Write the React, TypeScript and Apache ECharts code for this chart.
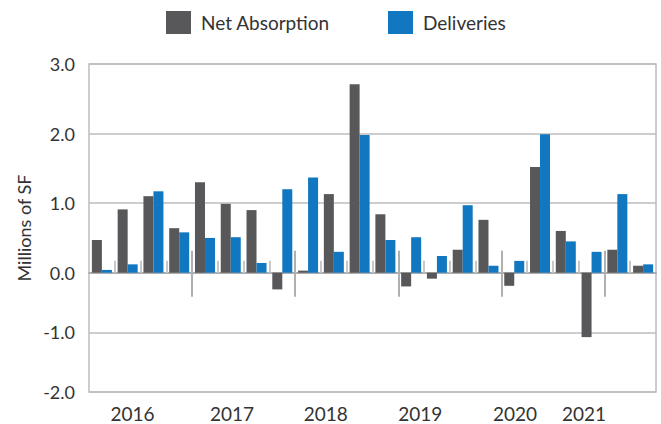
import React, { useEffect, useRef } from "react";
import * as echarts from "echarts";

// ---- data ----
const quarters = [
  "2016 Q1", "2016 Q2", "2016 Q3", "2016 Q4",
  "2017 Q1", "2017 Q2", "2017 Q3", "2017 Q4",
  "2018 Q1", "2018 Q2", "2018 Q3", "2018 Q4",
  "2019 Q1", "2019 Q2", "2019 Q3", "2019 Q4",
  "2020 Q1", "2020 Q2", "2020 Q3", "2020 Q4",
  "2021 Q1", "2021 Q2",
];
const netAbsorption = [
  0.47, 0.91, 1.1, 0.64,
  1.3, 0.99, 0.9, -0.28,
  0.03, 1.13, 2.71, 0.84,
  -0.23, -0.1, 0.33, 0.76,
  -0.22, 1.52, 0.6, -1.08,
  0.33, 0.1,
];
const deliveries = [
  0.04, 0.12, 1.17, 0.58,
  0.5, 0.51, 0.14, 1.2,
  1.37, 0.3, 1.98, 0.47,
  0.51, 0.24, 0.97, 0.1,
  0.17, 1.99, 0.45, 0.3,
  1.13, 0.12,
];
const yearLabels = ["2016", "2017", "2018", "2019", "2020", "2021"];
// where each year label sits, in quarter units along the axis (layout)
const yearLabelAt = [1.69, 5.55, 9.19, 12.85, 16.53, 19.21];
const yUpperMax = 3;
const yLowerMin = -2;

// ---- style ----
const FONT = "Lato";
const DARK = "#58585a";
const BLUE = "#1177c0";
const GRID_C = "#bdbdbd";
const TEXT_C = "#333333";

export default function App() {
  const ref = useRef<HTMLDivElement>(null);

  useEffect(() => {
    if (!ref.current) return;
    const chart = echarts.init(ref.current, undefined, { renderer: "svg" });

    const W = 661;
    const H = 424;
    const left = 89;
    const right = W - 656;
    const top = 64;
    const zeroY = 272.7;
    const bottomY = 392;

    const n = quarters.length;
    const yearOf = (q: string) => q.split(" ")[0];
    const boundaries = quarters.map((_, i) => i).filter((i) => i > 0);
    const yearBounds = boundaries.filter((i) => yearOf(quarters[i]) !== yearOf(quarters[i - 1]));
    const quarterBounds = boundaries.filter((i) => !yearBounds.includes(i));

    const barBase = {
      type: "bar" as const,
      barWidth: 10,
      barGap: "0%",
      clip: true,
    };

    const valueX = (gridIndex: number, extra: any) => ({
      type: "value",
      gridIndex,
      min: 0,
      max: n,
      axisLine: { show: false, onZero: false },
      axisTick: { show: false },
      axisLabel: { show: false },
      splitLine: { show: false },
      ...extra,
    });

    const option: any = {
      animation: false,
      textStyle: { fontFamily: FONT },
      legend: [
        {
          data: ["Net Absorption"],
          left: 166,
          top: 11,
          padding: 0,
          itemWidth: 25,
          itemHeight: 23,
          icon: "rect",
          textStyle: { fontSize: 19, color: TEXT_C, fontFamily: FONT, padding: [0, 0, 0, 5] },
        },
        {
          data: ["Deliveries"],
          left: 388,
          top: 11,
          padding: 0,
          itemWidth: 25,
          itemHeight: 23,
          icon: "rect",
          textStyle: { fontSize: 19, color: TEXT_C, fontFamily: FONT, padding: [0, 0, 0, 5] },
        },
      ],
      grid: [
        { left, right, top, bottom: H - zeroY, containLabel: false },
        { left, right, top: zeroY, bottom: H - bottomY, containLabel: false },
        {
          left, right, top, bottom: H - bottomY, containLabel: false,
          show: true, borderColor: GRID_C, borderWidth: 1.5, backgroundColor: "transparent",
        },
      ],
      xAxis: [
        { type: "category", gridIndex: 0, data: quarters, show: false },
        { type: "category", gridIndex: 1, data: quarters, show: false },
        // zero line + short quarter ticks
        valueX(0, {
          position: "bottom",
          axisLine: { show: true, onZero: false, lineStyle: { color: "#adadad", width: 2 } },
          axisTick: {
            show: true, inside: true, length: 12, customValues: quarterBounds,
            lineStyle: { color: "#c8c8c8", width: 2 },
          },
        }),
        // year separators above zero
        valueX(0, {
          position: "bottom",
          axisTick: {
            show: true, inside: true, length: 22, customValues: yearBounds,
            lineStyle: { color: "#b0b0b0", width: 2 },
          },
        }),
        // year separators below zero
        valueX(1, {
          position: "top",
          axisTick: {
            show: true, inside: true, length: 24, customValues: yearBounds,
            lineStyle: { color: "#b0b0b0", width: 2 },
          },
        }),
        // year labels
        valueX(2, {
          position: "bottom",
          axisLabel: {
            show: true,
            customValues: yearLabelAt,
            formatter: (v: number) => {
              const k = yearLabelAt.findIndex((p) => Math.abs(p - v) < 1e-6);
              return k >= 0 ? yearLabels[k] : "";
            },
            margin: 12,
            fontSize: 19,
            color: TEXT_C,
            fontFamily: FONT,
          },
        }),
      ],
      yAxis: [
        {
          type: "value",
          gridIndex: 0,
          min: 0,
          max: yUpperMax,
          interval: 1,
          axisLine: { show: false },
          axisTick: { show: false },
          axisLabel: {
            formatter: (v: number) => v.toFixed(1),
            fontSize: 18, color: TEXT_C, margin: 14, fontFamily: FONT,
          },
          splitLine: { show: true, lineStyle: { color: GRID_C, width: 1.5 } },
        },
        {
          type: "value",
          gridIndex: 1,
          min: yLowerMin,
          max: 0,
          interval: 1,
          axisLine: { show: false },
          axisTick: { show: false },
          axisLabel: {
            showMaxLabel: false,
            formatter: (v: number) => v.toFixed(1),
            fontSize: 18, color: TEXT_C, margin: 14, fontFamily: FONT,
          },
          splitLine: { show: true, lineStyle: { color: GRID_C, width: 1.5 } },
        },
        {
          type: "value",
          gridIndex: 2,
          min: 0,
          max: 1,
          axisLine: { show: false },
          axisTick: { show: false },
          axisLabel: { show: false },
          splitLine: { show: false },
          name: "Millions of SF",
          nameLocation: "middle",
          nameGap: 56,
          nameTextStyle: { fontSize: 18, color: TEXT_C, fontFamily: FONT },
        },
      ],
      series: [
        { ...barBase, name: "Net Absorption", xAxisIndex: 0, yAxisIndex: 0, data: netAbsorption, itemStyle: { color: DARK } },
        { ...barBase, name: "Deliveries", xAxisIndex: 0, yAxisIndex: 0, data: deliveries, itemStyle: { color: BLUE } },
        { ...barBase, name: "Net Absorption", xAxisIndex: 1, yAxisIndex: 1, data: netAbsorption, itemStyle: { color: DARK } },
        { ...barBase, name: "Deliveries", xAxisIndex: 1, yAxisIndex: 1, data: deliveries, itemStyle: { color: BLUE } },
      ],
    };

    chart.setOption(option);
    return () => chart.dispose();
  }, []);

  return (
    <div
      ref={ref}
      style={{ position: "fixed", left: 0, top: 0, width: 661, height: 424, background: "#fff" }}
    />
  );
}
